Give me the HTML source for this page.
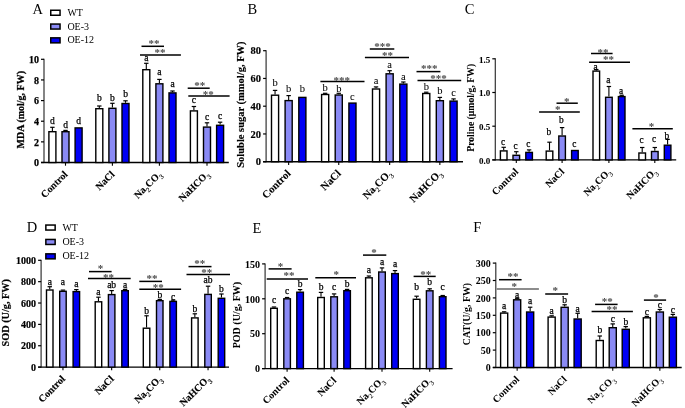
<!DOCTYPE html>
<html><head><meta charset="utf-8"><style>
html,body{margin:0;padding:0;background:#fff;}
svg{display:block;font-family:"Liberation Serif", serif;filter:blur(0.4px);}
</style></head><body>
<svg width="685" height="408" viewBox="0 0 685 408">
<rect width="685" height="408" fill="#fff"/>
<line x1="44.00" y1="58.80" x2="44.00" y2="163.00" stroke="#333" stroke-width="1.2"/>
<line x1="41.00" y1="162.50" x2="228.80" y2="162.50" stroke="#000" stroke-width="1.4"/>
<line x1="41.00" y1="162.50" x2="44.00" y2="162.50" stroke="#000" stroke-width="1.2"/>
<text x="39.00" y="166.20" font-size="10" font-weight="bold" text-anchor="end" fill="#000" stroke="#000" stroke-width="0.25">0</text>
<line x1="41.00" y1="141.86" x2="44.00" y2="141.86" stroke="#000" stroke-width="1.2"/>
<text x="39.00" y="145.56" font-size="10" font-weight="bold" text-anchor="end" fill="#000" stroke="#000" stroke-width="0.25">2</text>
<line x1="41.00" y1="121.22" x2="44.00" y2="121.22" stroke="#000" stroke-width="1.2"/>
<text x="39.00" y="124.92" font-size="10" font-weight="bold" text-anchor="end" fill="#000" stroke="#000" stroke-width="0.25">4</text>
<line x1="41.00" y1="100.58" x2="44.00" y2="100.58" stroke="#000" stroke-width="1.2"/>
<text x="39.00" y="104.28" font-size="10" font-weight="bold" text-anchor="end" fill="#000" stroke="#000" stroke-width="0.25">6</text>
<line x1="41.00" y1="79.94" x2="44.00" y2="79.94" stroke="#000" stroke-width="1.2"/>
<text x="39.00" y="83.64" font-size="10" font-weight="bold" text-anchor="end" fill="#000" stroke="#000" stroke-width="0.25">8</text>
<line x1="41.00" y1="59.30" x2="44.00" y2="59.30" stroke="#000" stroke-width="1.2"/>
<text x="39.00" y="63.00" font-size="10" font-weight="bold" text-anchor="end" fill="#000" stroke="#000" stroke-width="0.25">10</text>
<line x1="52.40" y1="131.00" x2="52.40" y2="127.30" stroke="#000" stroke-width="1.1"/>
<line x1="50.20" y1="127.30" x2="54.60" y2="127.30" stroke="#000" stroke-width="1.2"/>
<rect x="48.90" y="131.70" width="7.00" height="30.80" fill="#ffffff" stroke="#000" stroke-width="1.4"/>
<text x="52.40" y="123.70" font-size="9.5" font-weight="normal" text-anchor="middle" fill="#000" stroke="#000" stroke-width="0.25">d</text>
<line x1="65.50" y1="131.00" x2="65.50" y2="130.40" stroke="#000" stroke-width="1.1"/>
<line x1="63.30" y1="130.40" x2="67.70" y2="130.40" stroke="#000" stroke-width="1.2"/>
<rect x="62.00" y="131.70" width="7.00" height="30.80" fill="#8a8af5" stroke="#000" stroke-width="1.4"/>
<text x="65.50" y="128.20" font-size="9.5" font-weight="normal" text-anchor="middle" fill="#000" stroke="#000" stroke-width="0.25">d</text>
<rect x="75.10" y="127.90" width="7.00" height="34.60" fill="#0000f5" stroke="#000" stroke-width="1.4"/>
<text x="78.60" y="123.70" font-size="9.5" font-weight="normal" text-anchor="middle" fill="#000" stroke="#000" stroke-width="0.25">d</text>
<line x1="65.50" y1="162.50" x2="65.50" y2="165.70" stroke="#000" stroke-width="1.1"/>
<text x="68.30" y="175.00" font-size="10" font-weight="bold" stroke="#000" stroke-width="0.1" text-anchor="end" transform="rotate(-45 68.30 175.00)">Control</text>
<line x1="99.30" y1="108.00" x2="99.30" y2="106.00" stroke="#000" stroke-width="1.1"/>
<line x1="97.10" y1="106.00" x2="101.50" y2="106.00" stroke="#000" stroke-width="1.2"/>
<rect x="95.80" y="108.70" width="7.00" height="53.80" fill="#ffffff" stroke="#000" stroke-width="1.4"/>
<text x="99.30" y="101.20" font-size="9.5" font-weight="normal" text-anchor="middle" fill="#000" stroke="#000" stroke-width="0.25">b</text>
<line x1="112.40" y1="107.60" x2="112.40" y2="103.30" stroke="#000" stroke-width="1.1"/>
<line x1="110.20" y1="103.30" x2="114.60" y2="103.30" stroke="#000" stroke-width="1.2"/>
<rect x="108.90" y="108.30" width="7.00" height="54.20" fill="#8a8af5" stroke="#000" stroke-width="1.4"/>
<text x="112.40" y="101.00" font-size="9.5" font-weight="normal" text-anchor="middle" fill="#000" stroke="#000" stroke-width="0.25">b</text>
<line x1="125.50" y1="102.80" x2="125.50" y2="100.80" stroke="#000" stroke-width="1.1"/>
<line x1="123.30" y1="100.80" x2="127.70" y2="100.80" stroke="#000" stroke-width="1.2"/>
<rect x="122.00" y="103.50" width="7.00" height="59.00" fill="#0000f5" stroke="#000" stroke-width="1.4"/>
<text x="125.50" y="97.00" font-size="9.5" font-weight="normal" text-anchor="middle" fill="#000" stroke="#000" stroke-width="0.25">b</text>
<line x1="112.40" y1="162.50" x2="112.40" y2="165.70" stroke="#000" stroke-width="1.1"/>
<text x="115.20" y="175.00" font-size="10" font-weight="bold" stroke="#000" stroke-width="0.1" text-anchor="end" transform="rotate(-45 115.20 175.00)">NaCl</text>
<line x1="146.30" y1="69.00" x2="146.30" y2="63.30" stroke="#000" stroke-width="1.1"/>
<line x1="144.10" y1="63.30" x2="148.50" y2="63.30" stroke="#000" stroke-width="1.2"/>
<rect x="142.80" y="69.70" width="7.00" height="92.80" fill="#ffffff" stroke="#000" stroke-width="1.4"/>
<text x="146.30" y="60.80" font-size="9.5" font-weight="normal" text-anchor="middle" fill="#000" stroke="#000" stroke-width="0.25">a</text>
<line x1="159.40" y1="83.10" x2="159.40" y2="79.40" stroke="#000" stroke-width="1.1"/>
<line x1="157.20" y1="79.40" x2="161.60" y2="79.40" stroke="#000" stroke-width="1.2"/>
<rect x="155.90" y="83.80" width="7.00" height="78.70" fill="#8a8af5" stroke="#000" stroke-width="1.4"/>
<text x="159.40" y="75.40" font-size="9.5" font-weight="normal" text-anchor="middle" fill="#000" stroke="#000" stroke-width="0.25">a</text>
<line x1="172.50" y1="92.20" x2="172.50" y2="91.00" stroke="#000" stroke-width="1.1"/>
<line x1="170.30" y1="91.00" x2="174.70" y2="91.00" stroke="#000" stroke-width="1.2"/>
<rect x="169.00" y="92.90" width="7.00" height="69.60" fill="#0000f5" stroke="#000" stroke-width="1.4"/>
<text x="172.50" y="86.90" font-size="9.5" font-weight="normal" text-anchor="middle" fill="#000" stroke="#000" stroke-width="0.25">a</text>
<line x1="159.40" y1="162.50" x2="159.40" y2="165.70" stroke="#000" stroke-width="1.1"/>
<text x="162.20" y="175.00" font-size="10" font-weight="bold" stroke="#000" stroke-width="0.1" text-anchor="end" transform="rotate(-45 162.20 175.00)">Na<tspan font-size="7" font-weight="normal" dy="3">2</tspan><tspan dy="-3">CO</tspan><tspan font-size="7" font-weight="normal" dy="3">3</tspan></text>
<line x1="193.90" y1="110.20" x2="193.90" y2="106.50" stroke="#000" stroke-width="1.1"/>
<line x1="191.70" y1="106.50" x2="196.10" y2="106.50" stroke="#000" stroke-width="1.2"/>
<rect x="190.40" y="110.90" width="7.00" height="51.60" fill="#ffffff" stroke="#000" stroke-width="1.4"/>
<text x="193.90" y="102.90" font-size="9.5" font-weight="normal" text-anchor="middle" fill="#000" stroke="#000" stroke-width="0.25">c</text>
<line x1="207.00" y1="126.40" x2="207.00" y2="122.80" stroke="#000" stroke-width="1.1"/>
<line x1="204.80" y1="122.80" x2="209.20" y2="122.80" stroke="#000" stroke-width="1.2"/>
<rect x="203.50" y="127.10" width="7.00" height="35.40" fill="#8a8af5" stroke="#000" stroke-width="1.4"/>
<text x="207.00" y="119.50" font-size="9.5" font-weight="normal" text-anchor="middle" fill="#000" stroke="#000" stroke-width="0.25">c</text>
<line x1="220.10" y1="124.60" x2="220.10" y2="122.20" stroke="#000" stroke-width="1.1"/>
<line x1="217.90" y1="122.20" x2="222.30" y2="122.20" stroke="#000" stroke-width="1.2"/>
<rect x="216.60" y="125.30" width="7.00" height="37.20" fill="#0000f5" stroke="#000" stroke-width="1.4"/>
<text x="220.10" y="118.70" font-size="9.5" font-weight="normal" text-anchor="middle" fill="#000" stroke="#000" stroke-width="0.25">c</text>
<line x1="207.00" y1="162.50" x2="207.00" y2="165.70" stroke="#000" stroke-width="1.1"/>
<text x="209.80" y="175.00" font-size="10" font-weight="bold" stroke="#000" stroke-width="0.1" text-anchor="end" transform="rotate(-45 209.80 175.00)">NaHCO<tspan font-size="7" font-weight="normal" dy="3">3</tspan></text>
<line x1="141.50" y1="46.30" x2="164.00" y2="46.30" stroke="#000" stroke-width="1.5"/>
<text x="154.10" y="47.10" font-size="11" font-weight="bold" text-anchor="middle" fill="#4a4a4a" >**</text>
<line x1="140.00" y1="54.90" x2="180.90" y2="54.90" stroke="#000" stroke-width="1.5"/>
<text x="160.00" y="55.50" font-size="11" font-weight="bold" text-anchor="middle" fill="#4a4a4a" >**</text>
<line x1="187.70" y1="88.20" x2="209.70" y2="88.20" stroke="#000" stroke-width="1.5"/>
<text x="199.80" y="89.30" font-size="11" font-weight="bold" text-anchor="middle" fill="#4a4a4a" >**</text>
<line x1="188.30" y1="95.90" x2="229.60" y2="95.90" stroke="#000" stroke-width="1.5"/>
<text x="208.30" y="97.90" font-size="11" font-weight="bold" text-anchor="middle" fill="#4a4a4a" >**</text>
<text x="23.60" y="109.70" font-size="10" font-weight="bold" stroke="#000" stroke-width="0.25" text-anchor="middle" transform="rotate(-90 23.60 109.70)">MDA (mol/g, FW)</text>
<text x="32.50" y="14.00" font-size="14.5" font-weight="normal" text-anchor="start" fill="#000" >A</text>
<line x1="266.10" y1="50.20" x2="266.10" y2="162.20" stroke="#333" stroke-width="1.2"/>
<line x1="263.10" y1="161.70" x2="463.00" y2="161.70" stroke="#000" stroke-width="1.4"/>
<line x1="263.10" y1="161.70" x2="266.10" y2="161.70" stroke="#000" stroke-width="1.2"/>
<text x="261.10" y="165.40" font-size="10.5" font-weight="bold" text-anchor="end" fill="#000" stroke="#000" stroke-width="0.15">0</text>
<line x1="263.10" y1="133.95" x2="266.10" y2="133.95" stroke="#000" stroke-width="1.2"/>
<text x="261.10" y="137.65" font-size="10.5" font-weight="bold" text-anchor="end" fill="#000" stroke="#000" stroke-width="0.15">20</text>
<line x1="263.10" y1="106.20" x2="266.10" y2="106.20" stroke="#000" stroke-width="1.2"/>
<text x="261.10" y="109.90" font-size="10.5" font-weight="bold" text-anchor="end" fill="#000" stroke="#000" stroke-width="0.15">40</text>
<line x1="263.10" y1="78.45" x2="266.10" y2="78.45" stroke="#000" stroke-width="1.2"/>
<text x="261.10" y="82.15" font-size="10.5" font-weight="bold" text-anchor="end" fill="#000" stroke="#000" stroke-width="0.15">60</text>
<line x1="263.10" y1="50.70" x2="266.10" y2="50.70" stroke="#000" stroke-width="1.2"/>
<text x="261.10" y="54.40" font-size="10.5" font-weight="bold" text-anchor="end" fill="#000" stroke="#000" stroke-width="0.15">80</text>
<line x1="275.05" y1="94.50" x2="275.05" y2="90.40" stroke="#000" stroke-width="1.1"/>
<line x1="272.85" y1="90.40" x2="277.25" y2="90.40" stroke="#000" stroke-width="1.2"/>
<rect x="271.50" y="95.20" width="7.10" height="66.50" fill="#ffffff" stroke="#000" stroke-width="1.4"/>
<text x="275.05" y="85.90" font-size="10.5" font-weight="normal" text-anchor="middle" fill="#000" stroke="#000" stroke-width="0.05">b</text>
<line x1="288.65" y1="99.90" x2="288.65" y2="95.60" stroke="#000" stroke-width="1.1"/>
<line x1="286.45" y1="95.60" x2="290.85" y2="95.60" stroke="#000" stroke-width="1.2"/>
<rect x="285.10" y="100.60" width="7.10" height="61.10" fill="#8a8af5" stroke="#000" stroke-width="1.4"/>
<text x="288.65" y="91.70" font-size="10.5" font-weight="normal" text-anchor="middle" fill="#000" stroke="#000" stroke-width="0.05">b</text>
<rect x="298.80" y="97.40" width="7.10" height="64.30" fill="#0000f5" stroke="#000" stroke-width="1.4"/>
<text x="302.35" y="91.70" font-size="10.5" font-weight="normal" text-anchor="middle" fill="#000" stroke="#000" stroke-width="0.05">b</text>
<line x1="288.65" y1="161.70" x2="288.65" y2="164.90" stroke="#000" stroke-width="1.1"/>
<text x="291.45" y="174.20" font-size="10.7" font-weight="bold" stroke="#000" stroke-width="0.1" text-anchor="end" transform="rotate(-45 291.45 174.20)">Control</text>
<line x1="325.15" y1="93.80" x2="325.15" y2="93.30" stroke="#000" stroke-width="1.1"/>
<line x1="322.95" y1="93.30" x2="327.35" y2="93.30" stroke="#000" stroke-width="1.2"/>
<rect x="321.60" y="94.50" width="7.10" height="67.20" fill="#ffffff" stroke="#000" stroke-width="1.4"/>
<text x="325.15" y="91.30" font-size="10.5" font-weight="normal" text-anchor="middle" fill="#000" stroke="#000" stroke-width="0.05">b</text>
<line x1="338.75" y1="94.30" x2="338.75" y2="93.30" stroke="#000" stroke-width="1.1"/>
<line x1="336.55" y1="93.30" x2="340.95" y2="93.30" stroke="#000" stroke-width="1.2"/>
<rect x="335.20" y="95.00" width="7.10" height="66.70" fill="#8a8af5" stroke="#000" stroke-width="1.4"/>
<text x="338.75" y="91.80" font-size="10.5" font-weight="normal" text-anchor="middle" fill="#000" stroke="#000" stroke-width="0.05">b</text>
<rect x="348.90" y="103.10" width="7.10" height="58.60" fill="#0000f5" stroke="#000" stroke-width="1.4"/>
<text x="352.45" y="99.60" font-size="10.5" font-weight="normal" text-anchor="middle" fill="#000" stroke="#000" stroke-width="0.05">c</text>
<line x1="338.75" y1="161.70" x2="338.75" y2="164.90" stroke="#000" stroke-width="1.1"/>
<text x="341.55" y="174.20" font-size="10.7" font-weight="bold" stroke="#000" stroke-width="0.1" text-anchor="end" transform="rotate(-45 341.55 174.20)">NaCl</text>
<line x1="376.05" y1="88.30" x2="376.05" y2="86.90" stroke="#000" stroke-width="1.1"/>
<line x1="373.85" y1="86.90" x2="378.25" y2="86.90" stroke="#000" stroke-width="1.2"/>
<rect x="372.50" y="89.00" width="7.10" height="72.70" fill="#ffffff" stroke="#000" stroke-width="1.4"/>
<text x="376.05" y="84.40" font-size="10.5" font-weight="normal" text-anchor="middle" fill="#000" stroke="#000" stroke-width="0.05">a</text>
<line x1="389.65" y1="73.10" x2="389.65" y2="70.70" stroke="#000" stroke-width="1.1"/>
<line x1="387.45" y1="70.70" x2="391.85" y2="70.70" stroke="#000" stroke-width="1.2"/>
<rect x="386.10" y="73.80" width="7.10" height="87.90" fill="#8a8af5" stroke="#000" stroke-width="1.4"/>
<text x="389.65" y="67.50" font-size="10.5" font-weight="normal" text-anchor="middle" fill="#000" stroke="#000" stroke-width="0.05">a</text>
<line x1="403.35" y1="83.40" x2="403.35" y2="82.00" stroke="#000" stroke-width="1.1"/>
<line x1="401.15" y1="82.00" x2="405.55" y2="82.00" stroke="#000" stroke-width="1.2"/>
<rect x="399.80" y="84.10" width="7.10" height="77.60" fill="#0000f5" stroke="#000" stroke-width="1.4"/>
<text x="403.35" y="80.20" font-size="10.5" font-weight="normal" text-anchor="middle" fill="#000" stroke="#000" stroke-width="0.05">a</text>
<line x1="389.65" y1="161.70" x2="389.65" y2="164.90" stroke="#000" stroke-width="1.1"/>
<text x="392.45" y="174.20" font-size="10.7" font-weight="bold" stroke="#000" stroke-width="0.1" text-anchor="end" transform="rotate(-45 392.45 174.20)">Na<tspan font-size="7" font-weight="normal" dy="3">2</tspan><tspan dy="-3">CO</tspan><tspan font-size="7" font-weight="normal" dy="3">3</tspan></text>
<line x1="426.25" y1="92.80" x2="426.25" y2="92.20" stroke="#000" stroke-width="1.1"/>
<line x1="424.05" y1="92.20" x2="428.45" y2="92.20" stroke="#000" stroke-width="1.2"/>
<rect x="422.70" y="93.50" width="7.10" height="68.20" fill="#ffffff" stroke="#000" stroke-width="1.4"/>
<text x="426.25" y="89.90" font-size="10.5" font-weight="normal" text-anchor="middle" fill="#000" stroke="#000" stroke-width="0.05">b</text>
<line x1="439.85" y1="100.00" x2="439.85" y2="97.40" stroke="#000" stroke-width="1.1"/>
<line x1="437.65" y1="97.40" x2="442.05" y2="97.40" stroke="#000" stroke-width="1.2"/>
<rect x="436.30" y="100.70" width="7.10" height="61.00" fill="#8a8af5" stroke="#000" stroke-width="1.4"/>
<text x="439.85" y="94.30" font-size="10.5" font-weight="normal" text-anchor="middle" fill="#000" stroke="#000" stroke-width="0.05">b</text>
<line x1="453.55" y1="100.40" x2="453.55" y2="98.90" stroke="#000" stroke-width="1.1"/>
<line x1="451.35" y1="98.90" x2="455.75" y2="98.90" stroke="#000" stroke-width="1.2"/>
<rect x="450.00" y="101.10" width="7.10" height="60.60" fill="#0000f5" stroke="#000" stroke-width="1.4"/>
<text x="453.55" y="96.20" font-size="10.5" font-weight="normal" text-anchor="middle" fill="#000" stroke="#000" stroke-width="0.05">c</text>
<line x1="439.85" y1="161.70" x2="439.85" y2="164.90" stroke="#000" stroke-width="1.1"/>
<text x="442.65" y="174.20" font-size="10.7" font-weight="bold" stroke="#000" stroke-width="0.1" text-anchor="end" transform="rotate(-45 442.65 174.20)">NaHCO<tspan font-size="7" font-weight="normal" dy="3">3</tspan></text>
<line x1="320.40" y1="81.50" x2="364.50" y2="81.50" stroke="#000" stroke-width="1.5"/>
<text x="341.70" y="83.60" font-size="11" font-weight="bold" text-anchor="middle" fill="#4a4a4a" >***</text>
<line x1="369.80" y1="49.00" x2="394.30" y2="49.00" stroke="#000" stroke-width="1.5"/>
<text x="382.50" y="49.60" font-size="11" font-weight="bold" text-anchor="middle" fill="#4a4a4a" >***</text>
<line x1="364.90" y1="57.50" x2="409.00" y2="57.50" stroke="#000" stroke-width="1.5"/>
<text x="387.50" y="59.40" font-size="11" font-weight="bold" text-anchor="middle" fill="#4a4a4a" >**</text>
<line x1="416.50" y1="71.60" x2="440.40" y2="71.60" stroke="#000" stroke-width="1.5"/>
<text x="429.20" y="72.20" font-size="11" font-weight="bold" text-anchor="middle" fill="#4a4a4a" >***</text>
<line x1="417.50" y1="80.40" x2="461.20" y2="80.40" stroke="#000" stroke-width="1.5"/>
<text x="438.50" y="82.00" font-size="11" font-weight="bold" text-anchor="middle" fill="#4a4a4a" >***</text>
<text x="243.80" y="104.60" font-size="10.5" font-weight="bold" stroke="#000" stroke-width="0.15" text-anchor="middle" transform="rotate(-90 243.80 104.60)">Soluble sugar (mmol/g, FW)</text>
<text x="247.50" y="14.00" font-size="14.5" font-weight="normal" text-anchor="start" fill="#000" >B</text>
<line x1="495.30" y1="58.30" x2="495.30" y2="160.40" stroke="#333" stroke-width="1.2"/>
<line x1="492.30" y1="159.90" x2="676.20" y2="159.90" stroke="#000" stroke-width="1.4"/>
<line x1="492.30" y1="159.90" x2="495.30" y2="159.90" stroke="#000" stroke-width="1.2"/>
<text x="490.30" y="163.60" font-size="9" font-weight="bold" text-anchor="end" fill="#000" stroke="#000" stroke-width="0.05">0.0</text>
<line x1="492.30" y1="126.20" x2="495.30" y2="126.20" stroke="#000" stroke-width="1.2"/>
<text x="490.30" y="129.90" font-size="9" font-weight="bold" text-anchor="end" fill="#000" stroke="#000" stroke-width="0.05">0.5</text>
<line x1="492.30" y1="92.50" x2="495.30" y2="92.50" stroke="#000" stroke-width="1.2"/>
<text x="490.30" y="96.20" font-size="9" font-weight="bold" text-anchor="end" fill="#000" stroke="#000" stroke-width="0.05">1.0</text>
<line x1="492.30" y1="58.80" x2="495.30" y2="58.80" stroke="#000" stroke-width="1.2"/>
<text x="490.30" y="62.50" font-size="9" font-weight="bold" text-anchor="end" fill="#000" stroke="#000" stroke-width="0.05">1.5</text>
<line x1="503.70" y1="150.20" x2="503.70" y2="147.30" stroke="#000" stroke-width="1.1"/>
<line x1="501.50" y1="147.30" x2="505.90" y2="147.30" stroke="#000" stroke-width="1.2"/>
<rect x="500.40" y="150.90" width="6.60" height="9.00" fill="#ffffff" stroke="#000" stroke-width="1.4"/>
<text x="503.00" y="144.90" font-size="9.3" font-weight="normal" text-anchor="middle" fill="#000" stroke="#000" stroke-width="0.25">c</text>
<line x1="516.30" y1="154.60" x2="516.30" y2="151.70" stroke="#000" stroke-width="1.1"/>
<line x1="514.10" y1="151.70" x2="518.50" y2="151.70" stroke="#000" stroke-width="1.2"/>
<rect x="513.00" y="155.30" width="6.60" height="4.60" fill="#8a8af5" stroke="#000" stroke-width="1.4"/>
<text x="515.60" y="148.60" font-size="9.3" font-weight="normal" text-anchor="middle" fill="#000" stroke="#000" stroke-width="0.25">c</text>
<line x1="529.10" y1="151.70" x2="529.10" y2="149.90" stroke="#000" stroke-width="1.1"/>
<line x1="526.90" y1="149.90" x2="531.30" y2="149.90" stroke="#000" stroke-width="1.2"/>
<rect x="525.80" y="152.40" width="6.60" height="7.50" fill="#0000f5" stroke="#000" stroke-width="1.4"/>
<text x="528.40" y="146.70" font-size="9.3" font-weight="normal" text-anchor="middle" fill="#000" stroke="#000" stroke-width="0.25">c</text>
<line x1="516.30" y1="159.90" x2="516.30" y2="163.10" stroke="#000" stroke-width="1.1"/>
<text x="519.10" y="172.40" font-size="10" font-weight="bold" stroke="#000" stroke-width="0.05" text-anchor="end" transform="rotate(-45 519.10 172.40)">Control</text>
<line x1="549.50" y1="150.40" x2="549.50" y2="142.20" stroke="#000" stroke-width="1.1"/>
<line x1="547.30" y1="142.20" x2="551.70" y2="142.20" stroke="#000" stroke-width="1.2"/>
<rect x="546.20" y="151.10" width="6.60" height="8.80" fill="#ffffff" stroke="#000" stroke-width="1.4"/>
<text x="548.80" y="135.30" font-size="9.3" font-weight="normal" text-anchor="middle" fill="#000" stroke="#000" stroke-width="0.25">b</text>
<line x1="562.10" y1="135.30" x2="562.10" y2="127.60" stroke="#000" stroke-width="1.1"/>
<line x1="559.90" y1="127.60" x2="564.30" y2="127.60" stroke="#000" stroke-width="1.2"/>
<rect x="558.80" y="136.00" width="6.60" height="23.90" fill="#8a8af5" stroke="#000" stroke-width="1.4"/>
<text x="561.40" y="122.80" font-size="9.3" font-weight="normal" text-anchor="middle" fill="#000" stroke="#000" stroke-width="0.25">b</text>
<rect x="571.60" y="150.50" width="6.60" height="9.40" fill="#0000f5" stroke="#000" stroke-width="1.4"/>
<text x="574.20" y="147.40" font-size="9.3" font-weight="normal" text-anchor="middle" fill="#000" stroke="#000" stroke-width="0.25">c</text>
<line x1="562.10" y1="159.90" x2="562.10" y2="163.10" stroke="#000" stroke-width="1.1"/>
<text x="564.90" y="172.40" font-size="10" font-weight="bold" stroke="#000" stroke-width="0.05" text-anchor="end" transform="rotate(-45 564.90 172.40)">NaCl</text>
<line x1="596.30" y1="70.40" x2="596.30" y2="69.50" stroke="#000" stroke-width="1.1"/>
<line x1="594.10" y1="69.50" x2="598.50" y2="69.50" stroke="#000" stroke-width="1.2"/>
<rect x="593.00" y="71.10" width="6.60" height="88.80" fill="#ffffff" stroke="#000" stroke-width="1.4"/>
<text x="595.60" y="69.50" font-size="9.3" font-weight="normal" text-anchor="middle" fill="#000" stroke="#000" stroke-width="0.25">a</text>
<line x1="608.90" y1="96.60" x2="608.90" y2="86.50" stroke="#000" stroke-width="1.1"/>
<line x1="606.70" y1="86.50" x2="611.10" y2="86.50" stroke="#000" stroke-width="1.2"/>
<rect x="605.60" y="97.30" width="6.60" height="62.60" fill="#8a8af5" stroke="#000" stroke-width="1.4"/>
<text x="608.20" y="82.70" font-size="9.3" font-weight="normal" text-anchor="middle" fill="#000" stroke="#000" stroke-width="0.25">a</text>
<line x1="621.70" y1="95.90" x2="621.70" y2="95.30" stroke="#000" stroke-width="1.1"/>
<line x1="619.50" y1="95.30" x2="623.90" y2="95.30" stroke="#000" stroke-width="1.2"/>
<rect x="618.40" y="96.60" width="6.60" height="63.30" fill="#0000f5" stroke="#000" stroke-width="1.4"/>
<text x="621.00" y="94.00" font-size="9.3" font-weight="normal" text-anchor="middle" fill="#000" stroke="#000" stroke-width="0.25">a</text>
<line x1="608.90" y1="159.90" x2="608.90" y2="163.10" stroke="#000" stroke-width="1.1"/>
<text x="611.70" y="172.40" font-size="10" font-weight="bold" stroke="#000" stroke-width="0.05" text-anchor="end" transform="rotate(-45 611.70 172.40)">Na<tspan font-size="7" font-weight="normal" dy="3">2</tspan><tspan dy="-3">CO</tspan><tspan font-size="7" font-weight="normal" dy="3">3</tspan></text>
<line x1="642.20" y1="152.30" x2="642.20" y2="147.50" stroke="#000" stroke-width="1.1"/>
<line x1="640.00" y1="147.50" x2="644.40" y2="147.50" stroke="#000" stroke-width="1.2"/>
<rect x="638.90" y="153.00" width="6.60" height="6.90" fill="#ffffff" stroke="#000" stroke-width="1.4"/>
<text x="641.50" y="142.50" font-size="9.3" font-weight="normal" text-anchor="middle" fill="#000" stroke="#000" stroke-width="0.25">c</text>
<line x1="654.80" y1="150.80" x2="654.80" y2="147.50" stroke="#000" stroke-width="1.1"/>
<line x1="652.60" y1="147.50" x2="657.00" y2="147.50" stroke="#000" stroke-width="1.2"/>
<rect x="651.50" y="151.50" width="6.60" height="8.40" fill="#8a8af5" stroke="#000" stroke-width="1.4"/>
<text x="654.10" y="141.80" font-size="9.3" font-weight="normal" text-anchor="middle" fill="#000" stroke="#000" stroke-width="0.25">c</text>
<line x1="667.60" y1="144.50" x2="667.60" y2="139.40" stroke="#000" stroke-width="1.1"/>
<line x1="665.40" y1="139.40" x2="669.80" y2="139.40" stroke="#000" stroke-width="1.2"/>
<rect x="664.30" y="145.20" width="6.60" height="14.70" fill="#0000f5" stroke="#000" stroke-width="1.4"/>
<text x="666.90" y="138.50" font-size="9.3" font-weight="normal" text-anchor="middle" fill="#000" stroke="#000" stroke-width="0.25">b</text>
<line x1="654.80" y1="159.90" x2="654.80" y2="163.10" stroke="#000" stroke-width="1.1"/>
<text x="657.60" y="172.40" font-size="10" font-weight="bold" stroke="#000" stroke-width="0.05" text-anchor="end" transform="rotate(-45 657.60 172.40)">NaHCO<tspan font-size="7" font-weight="normal" dy="3">3</tspan></text>
<line x1="556.50" y1="103.20" x2="577.80" y2="103.20" stroke="#000" stroke-width="1.5"/>
<text x="566.80" y="104.60" font-size="11" font-weight="bold" text-anchor="middle" fill="#4a4a4a" >*</text>
<line x1="539.10" y1="112.00" x2="579.80" y2="112.00" stroke="#000" stroke-width="1.5"/>
<text x="557.70" y="113.40" font-size="11" font-weight="bold" text-anchor="middle" fill="#4a4a4a" >*</text>
<line x1="591.00" y1="53.50" x2="612.60" y2="53.50" stroke="#000" stroke-width="1.5"/>
<text x="603.00" y="55.80" font-size="11" font-weight="bold" text-anchor="middle" fill="#4a4a4a" >**</text>
<line x1="589.10" y1="62.20" x2="630.00" y2="62.20" stroke="#000" stroke-width="1.5"/>
<text x="608.50" y="63.40" font-size="11" font-weight="bold" text-anchor="middle" fill="#4a4a4a" >**</text>
<line x1="632.40" y1="128.80" x2="672.80" y2="128.80" stroke="#000" stroke-width="1.5"/>
<text x="651.50" y="129.80" font-size="11" font-weight="bold" text-anchor="middle" fill="#4a4a4a" >*</text>
<text x="474.00" y="107.80" font-size="9.7" font-weight="bold" stroke="#000" stroke-width="0.05" text-anchor="middle" transform="rotate(-90 474.00 107.80)">Proline (μmol/g, FW)</text>
<text x="464.80" y="14.00" font-size="14.5" font-weight="normal" text-anchor="start" fill="#000" >C</text>
<line x1="41.10" y1="259.80" x2="41.10" y2="367.60" stroke="#333" stroke-width="1.2"/>
<line x1="38.10" y1="367.10" x2="229.00" y2="367.10" stroke="#000" stroke-width="1.4"/>
<line x1="38.10" y1="367.10" x2="41.10" y2="367.10" stroke="#000" stroke-width="1.2"/>
<text x="36.10" y="370.80" font-size="10" font-weight="bold" text-anchor="end" fill="#000" stroke="#000" stroke-width="0.2">0</text>
<line x1="38.10" y1="345.74" x2="41.10" y2="345.74" stroke="#000" stroke-width="1.2"/>
<text x="36.10" y="349.44" font-size="10" font-weight="bold" text-anchor="end" fill="#000" stroke="#000" stroke-width="0.2">200</text>
<line x1="38.10" y1="324.38" x2="41.10" y2="324.38" stroke="#000" stroke-width="1.2"/>
<text x="36.10" y="328.08" font-size="10" font-weight="bold" text-anchor="end" fill="#000" stroke="#000" stroke-width="0.2">400</text>
<line x1="38.10" y1="303.02" x2="41.10" y2="303.02" stroke="#000" stroke-width="1.2"/>
<text x="36.10" y="306.72" font-size="10" font-weight="bold" text-anchor="end" fill="#000" stroke="#000" stroke-width="0.2">600</text>
<line x1="38.10" y1="281.66" x2="41.10" y2="281.66" stroke="#000" stroke-width="1.2"/>
<text x="36.10" y="285.36" font-size="10" font-weight="bold" text-anchor="end" fill="#000" stroke="#000" stroke-width="0.2">800</text>
<line x1="38.10" y1="260.30" x2="41.10" y2="260.30" stroke="#000" stroke-width="1.2"/>
<text x="36.10" y="264.00" font-size="10" font-weight="bold" text-anchor="end" fill="#000" stroke="#000" stroke-width="0.2">1000</text>
<line x1="49.75" y1="289.30" x2="49.75" y2="286.70" stroke="#000" stroke-width="1.1"/>
<line x1="47.55" y1="286.70" x2="51.95" y2="286.70" stroke="#000" stroke-width="1.2"/>
<rect x="46.50" y="290.00" width="6.50" height="77.10" fill="#ffffff" stroke="#000" stroke-width="1.4"/>
<text x="49.75" y="284.90" font-size="9.5" font-weight="normal" text-anchor="middle" fill="#000" stroke="#000" stroke-width="0.25">a</text>
<line x1="62.95" y1="290.60" x2="62.95" y2="290.10" stroke="#000" stroke-width="1.1"/>
<line x1="60.75" y1="290.10" x2="65.15" y2="290.10" stroke="#000" stroke-width="1.2"/>
<rect x="59.70" y="291.30" width="6.50" height="75.80" fill="#8a8af5" stroke="#000" stroke-width="1.4"/>
<text x="62.95" y="284.70" font-size="9.5" font-weight="normal" text-anchor="middle" fill="#000" stroke="#000" stroke-width="0.25">a</text>
<line x1="76.35" y1="290.90" x2="76.35" y2="289.60" stroke="#000" stroke-width="1.1"/>
<line x1="74.15" y1="289.60" x2="78.55" y2="289.60" stroke="#000" stroke-width="1.2"/>
<rect x="73.10" y="291.60" width="6.50" height="75.50" fill="#0000f5" stroke="#000" stroke-width="1.4"/>
<text x="76.35" y="287.30" font-size="9.5" font-weight="normal" text-anchor="middle" fill="#000" stroke="#000" stroke-width="0.25">a</text>
<line x1="62.95" y1="367.10" x2="62.95" y2="370.30" stroke="#000" stroke-width="1.1"/>
<text x="65.75" y="379.60" font-size="10" font-weight="bold" stroke="#000" stroke-width="0.15" text-anchor="end" transform="rotate(-45 65.75 379.60)">Control</text>
<line x1="98.45" y1="301.10" x2="98.45" y2="297.20" stroke="#000" stroke-width="1.1"/>
<line x1="96.25" y1="297.20" x2="100.65" y2="297.20" stroke="#000" stroke-width="1.2"/>
<rect x="95.20" y="301.80" width="6.50" height="65.30" fill="#ffffff" stroke="#000" stroke-width="1.4"/>
<text x="98.45" y="294.90" font-size="9.5" font-weight="normal" text-anchor="middle" fill="#000" stroke="#000" stroke-width="0.25">a</text>
<line x1="111.65" y1="293.90" x2="111.65" y2="290.60" stroke="#000" stroke-width="1.1"/>
<line x1="109.45" y1="290.60" x2="113.85" y2="290.60" stroke="#000" stroke-width="1.2"/>
<rect x="108.40" y="294.60" width="6.50" height="72.50" fill="#8a8af5" stroke="#000" stroke-width="1.4"/>
<text x="111.65" y="287.90" font-size="9.5" font-weight="normal" text-anchor="middle" fill="#000" stroke="#000" stroke-width="0.25">ab</text>
<line x1="125.05" y1="290.00" x2="125.05" y2="289.40" stroke="#000" stroke-width="1.1"/>
<line x1="122.85" y1="289.40" x2="127.25" y2="289.40" stroke="#000" stroke-width="1.2"/>
<rect x="121.80" y="290.70" width="6.50" height="76.40" fill="#0000f5" stroke="#000" stroke-width="1.4"/>
<text x="125.05" y="287.90" font-size="9.5" font-weight="normal" text-anchor="middle" fill="#000" stroke="#000" stroke-width="0.25">a</text>
<line x1="111.65" y1="367.10" x2="111.65" y2="370.30" stroke="#000" stroke-width="1.1"/>
<text x="114.45" y="379.60" font-size="10" font-weight="bold" stroke="#000" stroke-width="0.15" text-anchor="end" transform="rotate(-45 114.45 379.60)">NaCl</text>
<line x1="146.55" y1="327.50" x2="146.55" y2="315.80" stroke="#000" stroke-width="1.1"/>
<line x1="144.35" y1="315.80" x2="148.75" y2="315.80" stroke="#000" stroke-width="1.2"/>
<rect x="143.30" y="328.20" width="6.50" height="38.90" fill="#ffffff" stroke="#000" stroke-width="1.4"/>
<text x="146.55" y="314.40" font-size="9.5" font-weight="normal" text-anchor="middle" fill="#000" stroke="#000" stroke-width="0.25">b</text>
<line x1="159.75" y1="300.00" x2="159.75" y2="299.40" stroke="#000" stroke-width="1.1"/>
<line x1="157.55" y1="299.40" x2="161.95" y2="299.40" stroke="#000" stroke-width="1.2"/>
<rect x="156.50" y="300.70" width="6.50" height="66.40" fill="#8a8af5" stroke="#000" stroke-width="1.4"/>
<text x="159.75" y="297.50" font-size="9.5" font-weight="normal" text-anchor="middle" fill="#000" stroke="#000" stroke-width="0.25">b</text>
<line x1="173.15" y1="300.70" x2="173.15" y2="300.10" stroke="#000" stroke-width="1.1"/>
<line x1="170.95" y1="300.10" x2="175.35" y2="300.10" stroke="#000" stroke-width="1.2"/>
<rect x="169.90" y="301.40" width="6.50" height="65.70" fill="#0000f5" stroke="#000" stroke-width="1.4"/>
<text x="173.15" y="299.60" font-size="9.5" font-weight="normal" text-anchor="middle" fill="#000" stroke="#000" stroke-width="0.25">c</text>
<line x1="159.75" y1="367.10" x2="159.75" y2="370.30" stroke="#000" stroke-width="1.1"/>
<text x="162.55" y="379.60" font-size="10" font-weight="bold" stroke="#000" stroke-width="0.15" text-anchor="end" transform="rotate(-45 162.55 379.60)">Na<tspan font-size="7" font-weight="normal" dy="3">2</tspan><tspan dy="-3">CO</tspan><tspan font-size="7" font-weight="normal" dy="3">3</tspan></text>
<line x1="194.85" y1="317.20" x2="194.85" y2="313.80" stroke="#000" stroke-width="1.1"/>
<line x1="192.65" y1="313.80" x2="197.05" y2="313.80" stroke="#000" stroke-width="1.2"/>
<rect x="191.60" y="317.90" width="6.50" height="49.20" fill="#ffffff" stroke="#000" stroke-width="1.4"/>
<text x="194.85" y="312.40" font-size="9.5" font-weight="normal" text-anchor="middle" fill="#000" stroke="#000" stroke-width="0.25">b</text>
<line x1="208.05" y1="293.70" x2="208.05" y2="286.20" stroke="#000" stroke-width="1.1"/>
<line x1="205.85" y1="286.20" x2="210.25" y2="286.20" stroke="#000" stroke-width="1.2"/>
<rect x="204.80" y="294.40" width="6.50" height="72.70" fill="#8a8af5" stroke="#000" stroke-width="1.4"/>
<text x="208.05" y="283.40" font-size="9.5" font-weight="normal" text-anchor="middle" fill="#000" stroke="#000" stroke-width="0.25">ab</text>
<line x1="221.45" y1="297.60" x2="221.45" y2="294.00" stroke="#000" stroke-width="1.1"/>
<line x1="219.25" y1="294.00" x2="223.65" y2="294.00" stroke="#000" stroke-width="1.2"/>
<rect x="218.20" y="298.30" width="6.50" height="68.80" fill="#0000f5" stroke="#000" stroke-width="1.4"/>
<text x="221.45" y="292.20" font-size="9.5" font-weight="normal" text-anchor="middle" fill="#000" stroke="#000" stroke-width="0.25">b</text>
<line x1="208.05" y1="367.10" x2="208.05" y2="370.30" stroke="#000" stroke-width="1.1"/>
<text x="210.85" y="379.60" font-size="10" font-weight="bold" stroke="#000" stroke-width="0.15" text-anchor="end" transform="rotate(-45 210.85 379.60)">NaHCO<tspan font-size="7" font-weight="normal" dy="3">3</tspan></text>
<line x1="89.00" y1="271.60" x2="111.60" y2="271.60" stroke="#000" stroke-width="1.5"/>
<text x="100.40" y="272.20" font-size="11" font-weight="bold" text-anchor="middle" fill="#4a4a4a" >*</text>
<line x1="88.00" y1="278.50" x2="130.70" y2="278.50" stroke="#000" stroke-width="1.5"/>
<text x="108.40" y="280.50" font-size="11" font-weight="bold" text-anchor="middle" fill="#4a4a4a" >**</text>
<line x1="139.30" y1="281.40" x2="162.00" y2="281.40" stroke="#000" stroke-width="1.5"/>
<text x="152.10" y="282.00" font-size="11" font-weight="bold" text-anchor="middle" fill="#4a4a4a" >**</text>
<line x1="139.30" y1="289.30" x2="181.10" y2="289.30" stroke="#000" stroke-width="1.5"/>
<text x="158.20" y="291.00" font-size="11" font-weight="bold" text-anchor="middle" fill="#4a4a4a" >**</text>
<line x1="188.50" y1="266.60" x2="211.50" y2="266.60" stroke="#000" stroke-width="1.5"/>
<text x="199.80" y="267.30" font-size="11" font-weight="bold" text-anchor="middle" fill="#4a4a4a" >**</text>
<line x1="186.50" y1="274.40" x2="230.00" y2="274.40" stroke="#000" stroke-width="1.5"/>
<text x="206.80" y="276.20" font-size="11" font-weight="bold" text-anchor="middle" fill="#4a4a4a" >**</text>
<text x="9.30" y="312.75" font-size="10.25" font-weight="bold" stroke="#000" stroke-width="0.2" text-anchor="middle" transform="rotate(-90 9.30 312.75)">SOD (U/g, FW)</text>
<text x="26.80" y="232.40" font-size="14.5" font-weight="normal" text-anchor="start" fill="#000" >D</text>
<line x1="265.10" y1="263.40" x2="265.10" y2="369.10" stroke="#333" stroke-width="1.2"/>
<line x1="262.10" y1="368.60" x2="452.60" y2="368.60" stroke="#000" stroke-width="1.4"/>
<line x1="262.10" y1="368.60" x2="265.10" y2="368.60" stroke="#000" stroke-width="1.2"/>
<text x="260.10" y="372.30" font-size="10" font-weight="bold" text-anchor="end" fill="#000" stroke="#000" stroke-width="0.05">0</text>
<line x1="262.10" y1="333.70" x2="265.10" y2="333.70" stroke="#000" stroke-width="1.2"/>
<text x="260.10" y="337.40" font-size="10" font-weight="bold" text-anchor="end" fill="#000" stroke="#000" stroke-width="0.05">50</text>
<line x1="262.10" y1="298.80" x2="265.10" y2="298.80" stroke="#000" stroke-width="1.2"/>
<text x="260.10" y="302.50" font-size="10" font-weight="bold" text-anchor="end" fill="#000" stroke="#000" stroke-width="0.05">100</text>
<line x1="262.10" y1="263.90" x2="265.10" y2="263.90" stroke="#000" stroke-width="1.2"/>
<text x="260.10" y="267.60" font-size="10" font-weight="bold" text-anchor="end" fill="#000" stroke="#000" stroke-width="0.05">150</text>
<line x1="274.00" y1="307.60" x2="274.00" y2="307.00" stroke="#000" stroke-width="1.1"/>
<line x1="271.80" y1="307.00" x2="276.20" y2="307.00" stroke="#000" stroke-width="1.2"/>
<rect x="270.70" y="308.30" width="6.60" height="60.30" fill="#ffffff" stroke="#000" stroke-width="1.4"/>
<text x="274.00" y="302.90" font-size="9.5" font-weight="normal" text-anchor="middle" fill="#000" stroke="#000" stroke-width="0.25">c</text>
<line x1="287.10" y1="298.10" x2="287.10" y2="297.50" stroke="#000" stroke-width="1.1"/>
<line x1="284.90" y1="297.50" x2="289.30" y2="297.50" stroke="#000" stroke-width="1.2"/>
<rect x="283.80" y="298.80" width="6.60" height="69.80" fill="#8a8af5" stroke="#000" stroke-width="1.4"/>
<text x="287.10" y="294.40" font-size="9.5" font-weight="normal" text-anchor="middle" fill="#000" stroke="#000" stroke-width="0.25">c</text>
<line x1="300.10" y1="291.50" x2="300.10" y2="289.60" stroke="#000" stroke-width="1.1"/>
<line x1="297.90" y1="289.60" x2="302.30" y2="289.60" stroke="#000" stroke-width="1.2"/>
<rect x="296.80" y="292.20" width="6.60" height="76.40" fill="#0000f5" stroke="#000" stroke-width="1.4"/>
<text x="300.10" y="286.50" font-size="9.5" font-weight="normal" text-anchor="middle" fill="#000" stroke="#000" stroke-width="0.25">b</text>
<line x1="287.10" y1="368.60" x2="287.10" y2="371.80" stroke="#000" stroke-width="1.1"/>
<text x="289.90" y="381.10" font-size="10" font-weight="bold" stroke="#000" stroke-width="0.05" text-anchor="end" transform="rotate(-45 289.90 381.10)">Control</text>
<line x1="321.00" y1="296.80" x2="321.00" y2="292.40" stroke="#000" stroke-width="1.1"/>
<line x1="318.80" y1="292.40" x2="323.20" y2="292.40" stroke="#000" stroke-width="1.2"/>
<rect x="317.70" y="297.50" width="6.60" height="71.10" fill="#ffffff" stroke="#000" stroke-width="1.4"/>
<text x="321.00" y="289.90" font-size="9.5" font-weight="normal" text-anchor="middle" fill="#000" stroke="#000" stroke-width="0.25">b</text>
<line x1="334.10" y1="296.10" x2="334.10" y2="293.90" stroke="#000" stroke-width="1.1"/>
<line x1="331.90" y1="293.90" x2="336.30" y2="293.90" stroke="#000" stroke-width="1.2"/>
<rect x="330.80" y="296.80" width="6.60" height="71.80" fill="#8a8af5" stroke="#000" stroke-width="1.4"/>
<text x="334.10" y="289.90" font-size="9.5" font-weight="normal" text-anchor="middle" fill="#000" stroke="#000" stroke-width="0.25">c</text>
<line x1="347.10" y1="290.00" x2="347.10" y2="289.40" stroke="#000" stroke-width="1.1"/>
<line x1="344.90" y1="289.40" x2="349.30" y2="289.40" stroke="#000" stroke-width="1.2"/>
<rect x="343.80" y="290.70" width="6.60" height="77.90" fill="#0000f5" stroke="#000" stroke-width="1.4"/>
<text x="347.10" y="287.00" font-size="9.5" font-weight="normal" text-anchor="middle" fill="#000" stroke="#000" stroke-width="0.25">b</text>
<line x1="334.10" y1="368.60" x2="334.10" y2="371.80" stroke="#000" stroke-width="1.1"/>
<text x="336.90" y="381.10" font-size="10" font-weight="bold" stroke="#000" stroke-width="0.05" text-anchor="end" transform="rotate(-45 336.90 381.10)">NaCl</text>
<line x1="368.90" y1="277.10" x2="368.90" y2="276.00" stroke="#000" stroke-width="1.1"/>
<line x1="366.70" y1="276.00" x2="371.10" y2="276.00" stroke="#000" stroke-width="1.2"/>
<rect x="365.60" y="277.80" width="6.60" height="90.80" fill="#ffffff" stroke="#000" stroke-width="1.4"/>
<text x="368.90" y="273.10" font-size="9.5" font-weight="normal" text-anchor="middle" fill="#000" stroke="#000" stroke-width="0.25">a</text>
<line x1="382.00" y1="271.30" x2="382.00" y2="267.90" stroke="#000" stroke-width="1.1"/>
<line x1="379.80" y1="267.90" x2="384.20" y2="267.90" stroke="#000" stroke-width="1.2"/>
<rect x="378.70" y="272.00" width="6.60" height="96.60" fill="#8a8af5" stroke="#000" stroke-width="1.4"/>
<text x="382.00" y="265.20" font-size="9.5" font-weight="normal" text-anchor="middle" fill="#000" stroke="#000" stroke-width="0.25">a</text>
<line x1="395.00" y1="272.90" x2="395.00" y2="270.60" stroke="#000" stroke-width="1.1"/>
<line x1="392.80" y1="270.60" x2="397.20" y2="270.60" stroke="#000" stroke-width="1.2"/>
<rect x="391.70" y="273.60" width="6.60" height="95.00" fill="#0000f5" stroke="#000" stroke-width="1.4"/>
<text x="395.00" y="266.80" font-size="9.5" font-weight="normal" text-anchor="middle" fill="#000" stroke="#000" stroke-width="0.25">a</text>
<line x1="382.00" y1="368.60" x2="382.00" y2="371.80" stroke="#000" stroke-width="1.1"/>
<text x="384.80" y="381.10" font-size="10" font-weight="bold" stroke="#000" stroke-width="0.05" text-anchor="end" transform="rotate(-45 384.80 381.10)">Na<tspan font-size="7" font-weight="normal" dy="3">2</tspan><tspan dy="-3">CO</tspan><tspan font-size="7" font-weight="normal" dy="3">3</tspan></text>
<line x1="416.60" y1="298.60" x2="416.60" y2="296.20" stroke="#000" stroke-width="1.1"/>
<line x1="414.40" y1="296.20" x2="418.80" y2="296.20" stroke="#000" stroke-width="1.2"/>
<rect x="413.30" y="299.30" width="6.60" height="69.30" fill="#ffffff" stroke="#000" stroke-width="1.4"/>
<text x="416.60" y="290.30" font-size="9.5" font-weight="normal" text-anchor="middle" fill="#000" stroke="#000" stroke-width="0.25">b</text>
<line x1="429.70" y1="290.10" x2="429.70" y2="288.80" stroke="#000" stroke-width="1.1"/>
<line x1="427.50" y1="288.80" x2="431.90" y2="288.80" stroke="#000" stroke-width="1.2"/>
<rect x="426.40" y="290.80" width="6.60" height="77.80" fill="#8a8af5" stroke="#000" stroke-width="1.4"/>
<text x="429.70" y="284.60" font-size="9.5" font-weight="normal" text-anchor="middle" fill="#000" stroke="#000" stroke-width="0.25">b</text>
<line x1="442.70" y1="296.00" x2="442.70" y2="295.50" stroke="#000" stroke-width="1.1"/>
<line x1="440.50" y1="295.50" x2="444.90" y2="295.50" stroke="#000" stroke-width="1.2"/>
<rect x="439.40" y="296.70" width="6.60" height="71.90" fill="#0000f5" stroke="#000" stroke-width="1.4"/>
<text x="442.70" y="290.30" font-size="9.5" font-weight="normal" text-anchor="middle" fill="#000" stroke="#000" stroke-width="0.25">c</text>
<line x1="429.70" y1="368.60" x2="429.70" y2="371.80" stroke="#000" stroke-width="1.1"/>
<text x="432.50" y="381.10" font-size="10" font-weight="bold" stroke="#000" stroke-width="0.05" text-anchor="end" transform="rotate(-45 432.50 381.10)">NaHCO<tspan font-size="7" font-weight="normal" dy="3">3</tspan></text>
<line x1="268.60" y1="268.90" x2="291.60" y2="268.90" stroke="#000" stroke-width="1.5"/>
<text x="280.50" y="270.10" font-size="11" font-weight="bold" text-anchor="middle" fill="#4a4a4a" >*</text>
<line x1="266.70" y1="279.00" x2="308.00" y2="279.00" stroke="#000" stroke-width="1.5"/>
<text x="289.00" y="278.60" font-size="11" font-weight="bold" text-anchor="middle" fill="#4a4a4a" >**</text>
<line x1="315.30" y1="277.70" x2="356.00" y2="277.70" stroke="#000" stroke-width="1.5"/>
<text x="336.30" y="278.00" font-size="11" font-weight="bold" text-anchor="middle" fill="#4a4a4a" >*</text>
<line x1="363.00" y1="255.10" x2="386.30" y2="255.10" stroke="#000" stroke-width="1.5"/>
<text x="373.90" y="256.30" font-size="11" font-weight="bold" text-anchor="middle" fill="#4a4a4a" >*</text>
<line x1="413.60" y1="276.40" x2="435.70" y2="276.40" stroke="#000" stroke-width="1.5"/>
<text x="425.70" y="277.50" font-size="11" font-weight="bold" text-anchor="middle" fill="#4a4a4a" >**</text>
<text x="239.70" y="315.10" font-size="10" font-weight="bold" stroke="#000" stroke-width="0.05" text-anchor="middle" transform="rotate(-90 239.70 315.10)">POD (U/g, FW)</text>
<text x="252.40" y="232.80" font-size="14.5" font-weight="normal" text-anchor="start" fill="#000" >E</text>
<line x1="495.80" y1="262.60" x2="495.80" y2="368.00" stroke="#333" stroke-width="1.2"/>
<line x1="492.80" y1="367.50" x2="681.70" y2="367.50" stroke="#000" stroke-width="1.4"/>
<line x1="492.80" y1="367.50" x2="495.80" y2="367.50" stroke="#000" stroke-width="1.2"/>
<text x="490.80" y="371.20" font-size="10" font-weight="bold" text-anchor="end" fill="#000" stroke="#000" stroke-width="0.0">0</text>
<line x1="492.80" y1="350.10" x2="495.80" y2="350.10" stroke="#000" stroke-width="1.2"/>
<text x="490.80" y="353.80" font-size="10" font-weight="bold" text-anchor="end" fill="#000" stroke="#000" stroke-width="0.0">50</text>
<line x1="492.80" y1="332.70" x2="495.80" y2="332.70" stroke="#000" stroke-width="1.2"/>
<text x="490.80" y="336.40" font-size="10" font-weight="bold" text-anchor="end" fill="#000" stroke="#000" stroke-width="0.0">100</text>
<line x1="492.80" y1="315.30" x2="495.80" y2="315.30" stroke="#000" stroke-width="1.2"/>
<text x="490.80" y="319.00" font-size="10" font-weight="bold" text-anchor="end" fill="#000" stroke="#000" stroke-width="0.0">150</text>
<line x1="492.80" y1="297.90" x2="495.80" y2="297.90" stroke="#000" stroke-width="1.2"/>
<text x="490.80" y="301.60" font-size="10" font-weight="bold" text-anchor="end" fill="#000" stroke="#000" stroke-width="0.0">200</text>
<line x1="492.80" y1="280.50" x2="495.80" y2="280.50" stroke="#000" stroke-width="1.2"/>
<text x="490.80" y="284.20" font-size="10" font-weight="bold" text-anchor="end" fill="#000" stroke="#000" stroke-width="0.0">250</text>
<line x1="492.80" y1="263.10" x2="495.80" y2="263.10" stroke="#000" stroke-width="1.2"/>
<text x="490.80" y="266.80" font-size="10" font-weight="bold" text-anchor="end" fill="#000" stroke="#000" stroke-width="0.0">300</text>
<line x1="504.15" y1="312.40" x2="504.15" y2="311.80" stroke="#000" stroke-width="1.1"/>
<line x1="501.95" y1="311.80" x2="506.35" y2="311.80" stroke="#000" stroke-width="1.2"/>
<rect x="500.60" y="313.10" width="7.10" height="54.40" fill="#ffffff" stroke="#000" stroke-width="1.4"/>
<text x="504.15" y="309.00" font-size="9.5" font-weight="normal" text-anchor="middle" fill="#000" stroke="#000" stroke-width="0.25">a</text>
<line x1="517.15" y1="299.10" x2="517.15" y2="298.30" stroke="#000" stroke-width="1.1"/>
<line x1="514.95" y1="298.30" x2="519.35" y2="298.30" stroke="#000" stroke-width="1.2"/>
<rect x="513.60" y="299.80" width="7.10" height="67.70" fill="#8a8af5" stroke="#000" stroke-width="1.4"/>
<text x="517.15" y="297.80" font-size="9.5" font-weight="normal" text-anchor="middle" fill="#000" stroke="#000" stroke-width="0.25">a</text>
<line x1="530.15" y1="311.30" x2="530.15" y2="307.20" stroke="#000" stroke-width="1.1"/>
<line x1="527.95" y1="307.20" x2="532.35" y2="307.20" stroke="#000" stroke-width="1.2"/>
<rect x="526.60" y="312.00" width="7.10" height="55.50" fill="#0000f5" stroke="#000" stroke-width="1.4"/>
<text x="530.15" y="303.90" font-size="9.5" font-weight="normal" text-anchor="middle" fill="#000" stroke="#000" stroke-width="0.25">a</text>
<line x1="517.15" y1="367.50" x2="517.15" y2="370.70" stroke="#000" stroke-width="1.1"/>
<text x="519.95" y="380.00" font-size="10" font-weight="bold" stroke="#000" stroke-width="0.0" text-anchor="end" transform="rotate(-45 519.95 380.00)">Control</text>
<line x1="551.65" y1="316.40" x2="551.65" y2="315.80" stroke="#000" stroke-width="1.1"/>
<line x1="549.45" y1="315.80" x2="553.85" y2="315.80" stroke="#000" stroke-width="1.2"/>
<rect x="548.10" y="317.10" width="7.10" height="50.40" fill="#ffffff" stroke="#000" stroke-width="1.4"/>
<text x="551.65" y="314.00" font-size="9.5" font-weight="normal" text-anchor="middle" fill="#000" stroke="#000" stroke-width="0.25">a</text>
<line x1="564.65" y1="306.60" x2="564.65" y2="304.80" stroke="#000" stroke-width="1.1"/>
<line x1="562.45" y1="304.80" x2="566.85" y2="304.80" stroke="#000" stroke-width="1.2"/>
<rect x="561.10" y="307.30" width="7.10" height="60.20" fill="#8a8af5" stroke="#000" stroke-width="1.4"/>
<text x="564.65" y="303.20" font-size="9.5" font-weight="normal" text-anchor="middle" fill="#000" stroke="#000" stroke-width="0.25">b</text>
<line x1="577.65" y1="318.30" x2="577.65" y2="313.30" stroke="#000" stroke-width="1.1"/>
<line x1="575.45" y1="313.30" x2="579.85" y2="313.30" stroke="#000" stroke-width="1.2"/>
<rect x="574.10" y="319.00" width="7.10" height="48.50" fill="#0000f5" stroke="#000" stroke-width="1.4"/>
<text x="577.65" y="312.00" font-size="9.5" font-weight="normal" text-anchor="middle" fill="#000" stroke="#000" stroke-width="0.25">a</text>
<line x1="564.65" y1="367.50" x2="564.65" y2="370.70" stroke="#000" stroke-width="1.1"/>
<text x="567.45" y="380.00" font-size="10" font-weight="bold" stroke="#000" stroke-width="0.0" text-anchor="end" transform="rotate(-45 567.45 380.00)">NaCl</text>
<line x1="599.75" y1="339.80" x2="599.75" y2="336.00" stroke="#000" stroke-width="1.1"/>
<line x1="597.55" y1="336.00" x2="601.95" y2="336.00" stroke="#000" stroke-width="1.2"/>
<rect x="596.20" y="340.50" width="7.10" height="27.00" fill="#ffffff" stroke="#000" stroke-width="1.4"/>
<text x="599.75" y="333.30" font-size="9.5" font-weight="normal" text-anchor="middle" fill="#000" stroke="#000" stroke-width="0.25">b</text>
<line x1="612.75" y1="327.00" x2="612.75" y2="323.90" stroke="#000" stroke-width="1.1"/>
<line x1="610.55" y1="323.90" x2="614.95" y2="323.90" stroke="#000" stroke-width="1.2"/>
<rect x="609.20" y="327.70" width="7.10" height="39.80" fill="#8a8af5" stroke="#000" stroke-width="1.4"/>
<text x="612.75" y="322.30" font-size="9.5" font-weight="normal" text-anchor="middle" fill="#000" stroke="#000" stroke-width="0.25">c</text>
<line x1="625.75" y1="328.60" x2="625.75" y2="326.60" stroke="#000" stroke-width="1.1"/>
<line x1="623.55" y1="326.60" x2="627.95" y2="326.60" stroke="#000" stroke-width="1.2"/>
<rect x="622.20" y="329.30" width="7.10" height="38.20" fill="#0000f5" stroke="#000" stroke-width="1.4"/>
<text x="625.75" y="324.60" font-size="9.5" font-weight="normal" text-anchor="middle" fill="#000" stroke="#000" stroke-width="0.25">b</text>
<line x1="612.75" y1="367.50" x2="612.75" y2="370.70" stroke="#000" stroke-width="1.1"/>
<text x="615.55" y="380.00" font-size="10" font-weight="bold" stroke="#000" stroke-width="0.0" text-anchor="end" transform="rotate(-45 615.55 380.00)">Na<tspan font-size="7" font-weight="normal" dy="3">2</tspan><tspan dy="-3">CO</tspan><tspan font-size="7" font-weight="normal" dy="3">3</tspan></text>
<line x1="646.85" y1="317.10" x2="646.85" y2="316.40" stroke="#000" stroke-width="1.1"/>
<line x1="644.65" y1="316.40" x2="649.05" y2="316.40" stroke="#000" stroke-width="1.2"/>
<rect x="643.30" y="317.80" width="7.10" height="49.70" fill="#ffffff" stroke="#000" stroke-width="1.4"/>
<text x="646.85" y="314.50" font-size="9.5" font-weight="normal" text-anchor="middle" fill="#000" stroke="#000" stroke-width="0.25">c</text>
<line x1="659.85" y1="311.30" x2="659.85" y2="309.50" stroke="#000" stroke-width="1.1"/>
<line x1="657.65" y1="309.50" x2="662.05" y2="309.50" stroke="#000" stroke-width="1.2"/>
<rect x="656.30" y="312.00" width="7.10" height="55.50" fill="#8a8af5" stroke="#000" stroke-width="1.4"/>
<text x="659.85" y="307.50" font-size="9.5" font-weight="normal" text-anchor="middle" fill="#000" stroke="#000" stroke-width="0.25">c</text>
<line x1="672.85" y1="316.50" x2="672.85" y2="314.40" stroke="#000" stroke-width="1.1"/>
<line x1="670.65" y1="314.40" x2="675.05" y2="314.40" stroke="#000" stroke-width="1.2"/>
<rect x="669.30" y="317.20" width="7.10" height="50.30" fill="#0000f5" stroke="#000" stroke-width="1.4"/>
<text x="672.85" y="313.10" font-size="9.5" font-weight="normal" text-anchor="middle" fill="#000" stroke="#000" stroke-width="0.25">c</text>
<line x1="659.85" y1="367.50" x2="659.85" y2="370.70" stroke="#000" stroke-width="1.1"/>
<text x="662.65" y="380.00" font-size="10" font-weight="bold" stroke="#000" stroke-width="0.0" text-anchor="end" transform="rotate(-45 662.65 380.00)">NaHCO<tspan font-size="7" font-weight="normal" dy="3">3</tspan></text>
<line x1="499.00" y1="279.70" x2="521.60" y2="279.70" stroke="#000" stroke-width="1.5"/>
<text x="512.90" y="279.80" font-size="11" font-weight="bold" text-anchor="middle" fill="#4a4a4a" >**</text>
<line x1="496.70" y1="288.90" x2="538.90" y2="288.90" stroke="#666" stroke-width="1.5"/>
<text x="514.20" y="290.10" font-size="11" font-weight="bold" text-anchor="middle" fill="#4a4a4a" >*</text>
<line x1="545.20" y1="294.00" x2="568.10" y2="294.00" stroke="#000" stroke-width="1.5"/>
<text x="555.30" y="294.40" font-size="11" font-weight="bold" text-anchor="middle" fill="#4a4a4a" >*</text>
<line x1="595.10" y1="304.40" x2="617.60" y2="304.40" stroke="#000" stroke-width="1.5"/>
<text x="607.20" y="304.90" font-size="11" font-weight="bold" text-anchor="middle" fill="#4a4a4a" >**</text>
<line x1="591.60" y1="311.60" x2="632.90" y2="311.60" stroke="#000" stroke-width="1.5"/>
<text x="611.90" y="313.30" font-size="11" font-weight="bold" text-anchor="middle" fill="#4a4a4a" >**</text>
<line x1="643.90" y1="300.10" x2="666.10" y2="300.10" stroke="#000" stroke-width="1.5"/>
<text x="656.00" y="301.20" font-size="11" font-weight="bold" text-anchor="middle" fill="#4a4a4a" >*</text>
<text x="469.80" y="314.00" font-size="9.9" font-weight="bold" stroke="#000" stroke-width="0.0" text-anchor="middle" transform="rotate(-90 469.80 314.00)">CAT(U/g, FW)</text>
<text x="473.20" y="232.30" font-size="14.5" font-weight="normal" text-anchor="start" fill="#000" >F</text>
<rect x="50.75" y="10.25" width="9.3" height="5" fill="#ffffff" stroke="#000" stroke-width="1.5"/>
<text x="67.40" y="15.80" font-size="10" font-weight="normal" text-anchor="start" fill="#000" >WT</text>
<rect x="50.75" y="24.05" width="9.3" height="5" fill="#8a8af5" stroke="#000" stroke-width="1.5"/>
<text x="67.40" y="29.60" font-size="10" font-weight="normal" text-anchor="start" fill="#000" >OE-3</text>
<rect x="50.75" y="37.85" width="9.3" height="5" fill="#0000f5" stroke="#000" stroke-width="1.5"/>
<text x="67.40" y="43.40" font-size="10" font-weight="normal" text-anchor="start" fill="#000" >OE-12</text>
<rect x="45.85" y="225.05" width="9.3" height="5" fill="#ffffff" stroke="#000" stroke-width="1.5"/>
<text x="62.40" y="230.60" font-size="10" font-weight="normal" text-anchor="start" fill="#000" >WT</text>
<rect x="45.85" y="239.45" width="9.3" height="5" fill="#8a8af5" stroke="#000" stroke-width="1.5"/>
<text x="62.40" y="245.00" font-size="10" font-weight="normal" text-anchor="start" fill="#000" >OE-3</text>
<rect x="45.85" y="253.85" width="9.3" height="5" fill="#0000f5" stroke="#000" stroke-width="1.5"/>
<text x="62.40" y="259.40" font-size="10" font-weight="normal" text-anchor="start" fill="#000" >OE-12</text>
</svg>
</body></html>
